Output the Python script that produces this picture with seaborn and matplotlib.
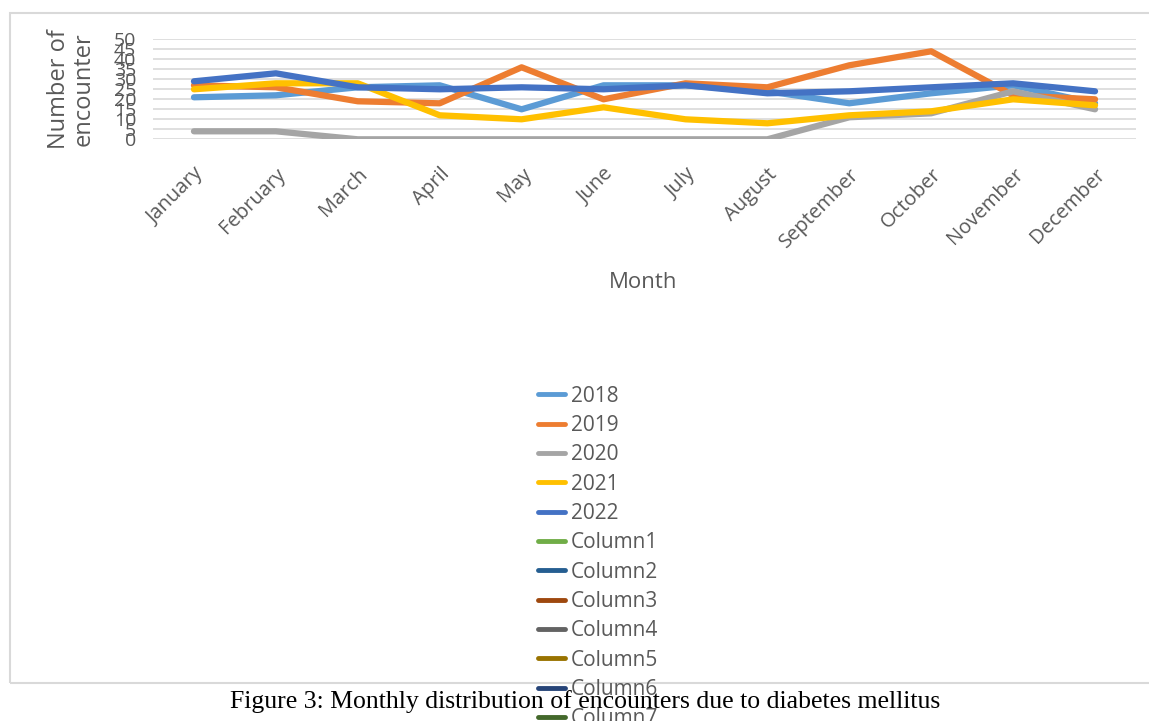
import pandas as pd
import matplotlib
import matplotlib.pyplot as plt
from matplotlib.lines import Line2D
from matplotlib.patches import Rectangle
import seaborn as sb

# Monthly encounters
months = ["January", "February", "March", "April", "May", "June", "July",
          "August", "September", "October", "November", "December"]
y2018 = [21, 22, 26, 27, 15, 27, 27, 24, 18, 23, 27, 18]
y2019 = [27, 26, 19, 18, 36, 20, 28, 26, 37, 44, 22, 20]
y2020 = [4, 4, 0, 0, 0, 0, 0, 0, 11, 13, 24, 15]
y2021 = [25, 28, 28, 12, 10, 16, 10, 8, 12, 14, 20, 17]
y2022 = [29, 33, 26, 25, 26, 25, 27, 23, 24, 26, 28, 24]

series_names = ["2018", "2019", "2020", "2021", "2022"]
empty_names = ["Column1", "Column2", "Column3", "Column4", "Column5", "Column6", "Column7"]
series_colors = ["#5B9BD5", "#ED7D31", "#A5A5A5", "#FFC000", "#4472C4"]
empty_colors = ["#70AD47", "#255E91", "#9E480E", "#636363", "#997300", "#264478", "#43682B"]
yticks = [0, 5, 10, 15, 20, 25, 30, 35, 40, 45, 50]

rows = []
for name, vals in zip(series_names, [y2018, y2019, y2020, y2021, y2022]):
    for m, v in zip(months, vals):
        rows.append({"Month": m, "Count": v, "Year": name})
data = pd.DataFrame(rows)

sb.set_style("white")
plt.rcParams['font.family'] = ['Open Sans', 'DejaVu Sans']
txt = "#595959"

W, H = 1149, 721
fig = plt.figure(figsize=(W / 100, H / 100), dpi=100)
ax = fig.add_axes([153 / W, 1 - 139.3 / H, (1136 - 153) / W, 100 / H])

sb.lineplot(data=data, x="Month", y="Count", hue="Year", palette=series_colors,
            sort=False, linewidth=4.5, legend=False, ax=ax)

ax.set_ylim(0, 50)
ax.set_xlim(-0.5, 11.5)
ax.set_yticks(yticks)
ax.set_yticklabels([str(t) for t in yticks], fontsize=14, color=txt)
ax.set_xticks(range(len(months)))
ax.set_xticklabels(months, rotation=45, ha="right", rotation_mode="anchor",
                   fontsize=14.5, color=txt)
ax.tick_params(axis="y", length=0, pad=12)
ax.tick_params(axis="x", length=0, pad=18)
ax.grid(axis="y", color="#D9D9D9", linewidth=1.2)
ax.set_axisbelow(True)
for s in ax.spines.values():
    s.set_visible(False)
ax.set_xlabel("")
ax.set_ylabel("")

# Axis titles
fig.text(71 / W, 1 - 89 / H, "Number of\nencounter", rotation=90, ha="center",
         va="center", fontsize=17, color=txt, linespacing=1.05)
fig.text(643 / W, 1 - 282 / H, "Month", ha="center", va="center",
         fontsize=16, color=txt)

# Chart border
fig.patches.append(Rectangle((10 / W, 1 - 683 / H), 1.2, (683 - 13) / H,
                             transform=fig.transFigure, fill=False,
                             edgecolor="#D9D9D9", linewidth=1.5))

# Legend including the empty columns
handles = [Line2D([], [], color=c, linewidth=3.5) for c in series_colors + empty_colors]
labels = series_names + empty_names
leg = fig.legend(handles, labels, loc="upper left", bbox_to_anchor=(519 / W, 1 - 367 / H),
                 frameon=False, fontsize=15, handlelength=1.3, handletextpad=0.3,
                 labelspacing=0.4, labelcolor=txt)

fig.text(585 / W, 1 - 702 / H,
         "Figure 3: Monthly distribution of encounters due to diabetes mellitus",
         ha="center", va="center", fontsize=18.5, family="Liberation Serif", color="black")

plt.savefig("out.png", dpi=100)
